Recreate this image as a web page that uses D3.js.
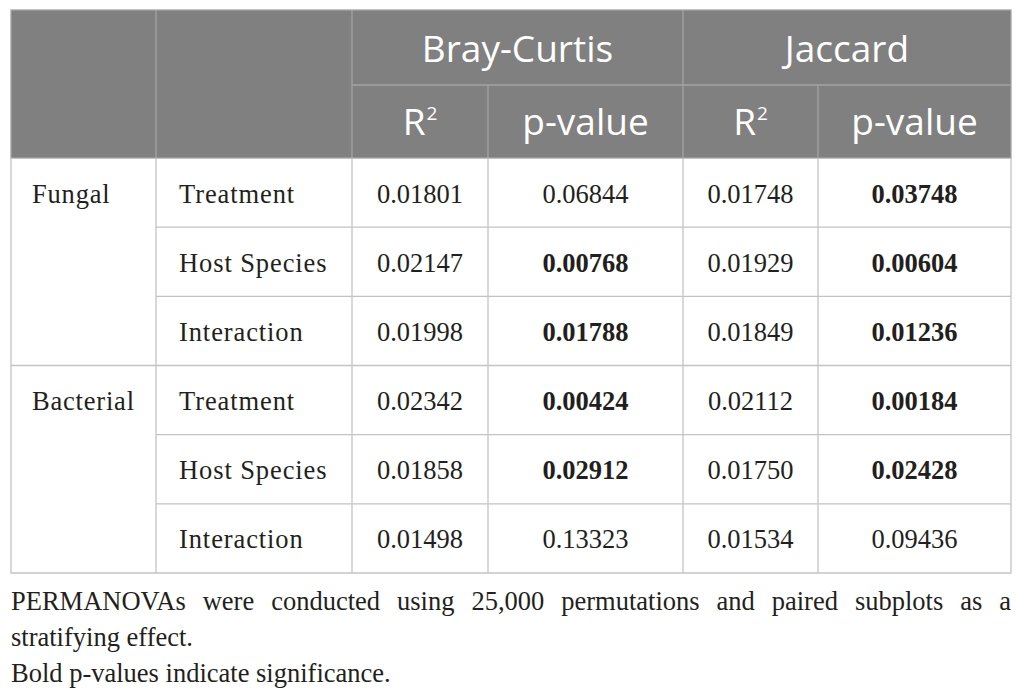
<!DOCTYPE html>
<html>
<head>
<meta charset="utf-8">
<script src="https://cdn.jsdelivr.net/npm/d3@7/dist/d3.min.js"></script>
<style>
  html, body { margin: 0; padding: 0; background: #fff; }
  svg { display: block; }
</style>
</head>
<body>
<svg id="tbl"></svg>
<script>
// Data
const groups = ["Fungal", "Bacterial"];
const terms = ["Treatment", "Host Species", "Interaction"];
const metrics = ["Bray-Curtis", "Jaccard"];
const subHeads = ["R", "p-value"];
const bcR2 = [0.01801, 0.02147, 0.01998, 0.02342, 0.01858, 0.01498];
const bcP  = [0.06844, 0.00768, 0.01788, 0.00424, 0.02912, 0.13323];
const jR2  = [0.01748, 0.01929, 0.01849, 0.02112, 0.01750, 0.01534];
const jP   = [0.03748, 0.00604, 0.01236, 0.00184, 0.02428, 0.09436];
const notes = [
  "PERMANOVAs were conducted using 25,000 permutations and paired subplots as a",
  "stratifying effect.",
  "Bold p-values indicate significance."
];

// Layout
const W = 1026, H = 698;
const colEdges = [11, 156, 352, 488, 683, 818, 1011];
const headTop = 10, headMid = 85, headBot = 158, bodyBot = 573;
const headFill = "#808080", headLine = "#a3a3a3", bodyLine = "#c3c3c3";
const ink = "#231f20";
const serif = "'Liberation Serif', 'Times New Roman', serif";
const sans = "'Open Sans', 'Noto Sans', sans-serif";

const svg = d3.select("#tbl").attr("width", W).attr("height", H);

// rows of the body (group x term)
const rows = [];
groups.forEach((g, gi) => terms.forEach((t, ti) => rows.push({ g, t, gi, ti, i: gi * 3 + ti })));

const y = d3.scaleBand().domain(d3.range(rows.length)).range([headBot, bodyBot]);
const colX = i => colEdges[i];
const colC = i => (colEdges[i] + colEdges[i + 1]) / 2;

// header background
svg.append("rect")
  .attr("x", colEdges[0]).attr("y", headTop)
  .attr("width", colEdges[6] - colEdges[0]).attr("height", headBot - headTop)
  .attr("fill", headFill);

// header lines
const hl = svg.append("g").attr("stroke", headLine).attr("stroke-width", 1.3);
[1, 2, 4].forEach(i => hl.append("line")
  .attr("x1", colX(i)).attr("x2", colX(i)).attr("y1", headTop).attr("y2", headBot));
[3, 5].forEach(i => hl.append("line")
  .attr("x1", colX(i)).attr("x2", colX(i)).attr("y1", headMid).attr("y2", headBot));
hl.append("line").attr("x1", colX(2)).attr("x2", colX(6)).attr("y1", headMid).attr("y2", headMid);
hl.append("rect").attr("x", colEdges[0]).attr("y", headTop)
  .attr("width", colEdges[6] - colEdges[0]).attr("height", headBot - headTop)
  .attr("fill", "none");

// header texts
metrics.forEach((m, mi) => {
  const cx = (colX(2 + mi * 2) + colX(4 + mi * 2)) / 2;
  svg.append("text")
    .attr("x", cx).attr("y", 62)
    .attr("text-anchor", "middle")
    .attr("font-family", sans).attr("font-size", 37)
    .attr("fill", "#fff").text(m);
  subHeads.forEach((s, si) => {
    const t = svg.append("text")
      .attr("x", colC(2 + mi * 2 + si)).attr("y", 135)
      .attr("text-anchor", "middle")
      .attr("font-family", sans).attr("font-size", 37)
      .attr("fill", "#fff");
    t.append("tspan").text(s);
    if (s === "R") t.append("tspan").attr("font-size", 19).attr("dx", 1).attr("dy", -15).text("2");
  });
});

// body lines
const bl = svg.append("g").attr("stroke", bodyLine).attr("stroke-width", 1.3).attr("fill", "none");
rows.forEach(r => {
  if (r.i === 0) return;
  const x1 = r.ti === 0 ? colX(0) : colX(1);
  bl.append("line").attr("x1", x1).attr("x2", colX(6))
    .attr("y1", y(r.i)).attr("y2", y(r.i));
});
d3.range(1, 6).forEach(i => bl.append("line")
  .attr("x1", colX(i)).attr("x2", colX(i)).attr("y1", headBot).attr("y2", bodyBot));
bl.append("polyline")
  .attr("points", [[colX(0), headBot], [colX(0), bodyBot], [colX(6), bodyBot], [colX(6), headBot]].join(" "));

// body cells
const body = svg.append("g").attr("font-family", serif).attr("font-size", 26.5).attr("fill", ink);
const base = r => y(r.i) + y.bandwidth() / 2 + 10;

body.selectAll("text.grp").data(rows.filter(r => r.ti === 0)).join("text")
  .attr("class", "grp").attr("x", 32).attr("y", base)
  .attr("letter-spacing", 0.8).text(r => r.g);
body.selectAll("text.term").data(rows).join("text")
  .attr("class", "term").attr("x", 179).attr("y", base)
  .attr("letter-spacing", 0.9).text(r => r.t);

const cols = [
  { vals: bcR2, p: false }, { vals: bcP, p: true },
  { vals: jR2, p: false }, { vals: jP, p: true }
];
cols.forEach((c, ci) => {
  body.selectAll("text.c" + ci).data(rows).join("text")
    .attr("class", "c" + ci)
    .attr("x", colC(2 + ci)).attr("y", base)
    .attr("text-anchor", "middle")
    .attr("font-weight", r => c.p && c.vals[r.i] < 0.05 ? "bold" : "normal")
    .text(r => c.vals[r.i].toFixed(5));
});

// footnote, first line justified
const foot = svg.append("g").attr("font-family", serif).attr("font-size", 26.5).attr("fill", ink);
const lineY = [610, 646, 682];
notes.forEach((n, li) => {
  if (li === 0) {
    const words = n.split(" ");
    const ws = words.map(w => {
      const t = foot.append("text").attr("y", lineY[li]).text(w);
      return { t, w: t.node().getComputedTextLength() };
    });
    const total = d3.sum(ws, d => d.w);
    const gap = (colEdges[6] - colEdges[0] - total) / (words.length - 1);
    let x = colEdges[0];
    ws.forEach(d => { d.t.attr("x", x); x += d.w + gap; });
  } else {
    foot.append("text").attr("x", colEdges[0]).attr("y", lineY[li]).text(n);
  }
});
</script>
</body>
</html>
